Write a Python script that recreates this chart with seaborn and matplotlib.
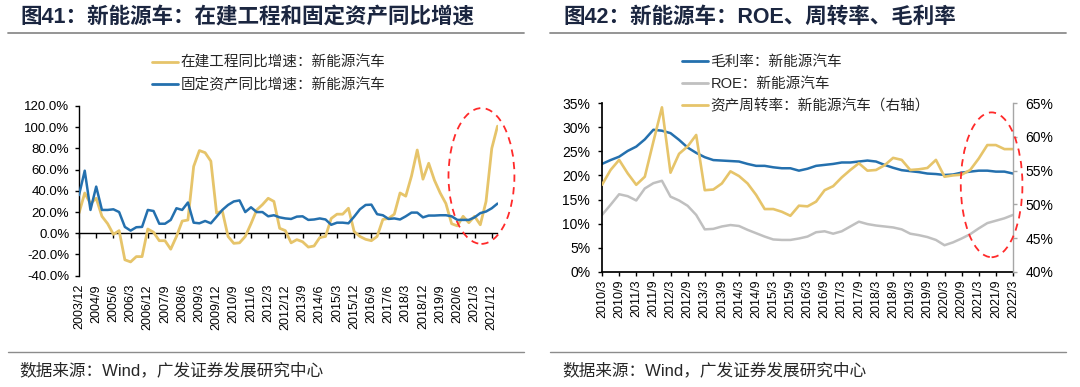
import numpy as np
import pandas as pd
import matplotlib
matplotlib.use("Agg")
import matplotlib.pyplot as plt
from matplotlib.patches import Ellipse
from matplotlib.lines import Line2D
import seaborn as sns

sns.set_theme(style="white")
plt.rcParams['font.family'] = ['Liberation Sans', 'Noto Sans CJK SC', 'DejaVu Sans']
plt.rcParams['axes.unicode_minus'] = False

# ---------------- data: left panel (quarterly, 2003/12 - 2022/3) ----------------
left_quarters = [f"{p.year}/{p.quarter * 3}" for p in pd.period_range("2003Q4", "2022Q1", freq="Q")]
cip_yoy = [19, 38, 28, 33, 16, 9, -1, 2.5, -25, -27,
           -22, -22, 4, 1, -7, -7, -15, -3, 11.5, 12.5,
           63, 78, 76, 68, 19, 21, -3, -9.5, -9, -3,
           9, 22, 27, 33, 30, 4.7, 2.5, -9, -6, -8,
           -13, -12, -4, -3, 14, 18, 18, 23.6, 1.6, -3,
           -5.7, -7, -3, 13, 14, 18, 38, 35, 54, 78.5,
           51, 66, 50, 38, 28, 9, 7, 16, 10, 16,
           8, 30, 80, 101]
fa_yoy = [36, 59, 22, 44, 22, 22, 22.6, 20, 6, 2.5,
          5.7, 6, 22, 21, 9, 9, 12.6, 23.6, 22, 29,
          10, 9.4, 11.6, 9.4, 15.7, 22, 26.7, 30, 31, 20,
          24.5, 20, 20, 16, 17, 15, 14, 13.5, 15.7, 16,
          12.6, 13, 14, 13, 8, 10, 10, 9.4, 15.7, 22.6,
          26.7, 27, 18, 17, 13.5, 14, 13, 16, 19.5, 19.5,
          15, 16.7, 16.7, 17, 17, 16, 12.6, 12.6, 12.6, 15,
          19, 20.5, 23.6, 28]
left_labels = ["在建工程同比增速：新能源汽车", "固定资产同比增速：新能源汽车"]

# ---------------- data: right panel (quarterly, 2010/3 - 2022/3) ----------------
right_quarters = [f"{p.year}/{p.quarter * 3}" for p in pd.period_range("2010Q1", "2022Q1", freq="Q")]
gross_margin = [22.4, 23.2, 23.9, 25.1, 26.0, 27.5, 29.5, 29.3, 28.8, 27.4,
                25.8, 24.7, 23.8, 23.2, 23.1, 23.0, 22.9, 22.4, 22.0, 22.0,
                21.7, 21.5, 21.5, 21.0, 21.4, 22.0, 22.2, 22.4, 22.7, 22.7,
                22.9, 23.1, 22.9, 22.2, 21.6, 21.1, 20.9, 20.7, 20.4, 20.3,
                20.1, 20.2, 20.6, 20.8, 21.0, 21.0, 20.8, 20.8, 20.4]
roe = [11.8, 13.9, 16.1, 15.7, 14.8, 17.3, 18.4, 18.9, 15.6, 14.8,
       13.7, 11.8, 8.8, 8.9, 9.4, 9.7, 9.5, 8.7, 8.0, 7.3,
       6.7, 6.6, 6.6, 6.9, 7.3, 8.2, 8.4, 7.9, 8.4, 9.4,
       10.4, 9.9, 9.6, 9.4, 9.2, 8.8, 7.9, 7.6, 7.2, 6.6,
       5.5, 6.1, 6.9, 7.8, 9.0, 10.1, 10.6, 11.1, 11.8]
asset_turnover = [52.9, 55.1, 56.6, 54.6, 52.9, 54.1, 59.3, 64.4, 54.7, 57.5,
                  58.6, 60.3, 52.1, 52.2, 53.1, 54.9, 54.2, 53.1, 51.4, 49.3,
                  49.3, 48.9, 48.3, 49.8, 49.7, 50.4, 52.1, 52.7, 54.0, 55.1,
                  56.1, 55.0, 55.1, 55.8, 56.9, 56.6, 55.1, 55.2, 55.4, 56.6,
                  54.1, 54.3, 54.4, 55.1, 56.8, 58.8, 58.8, 58.2, 58.2]
right_labels = ["毛利率：新能源汽车", "ROE：新能源汽车", "资产周转率：新能源汽车（右轴）"]

titles = ["图41：新能源车：在建工程和固定资产同比增速", "图42：新能源车：ROE、周转率、毛利率"]
source = "数据来源：Wind，广发证券发展研究中心"

YELLOW = "#E6C46A"
BLUE = "#2470AE"
GREY = "#C0C0C0"
RED = "#FF2A2A"
TITLE_C = "#1B2640"

W, H = 1080, 387
fig = plt.figure(figsize=(W / 100, H / 100), dpi=100)
fig.patch.set_facecolor("white")

def fx(px):
    return px / W

def fy(py):
    return 1 - py / H

# ---------------- left panel ----------------
ax1 = fig.add_axes([fx(79), fy(275.7), fx(497.5 - 79), (275.7 - 106) / H])
dfl = pd.DataFrame({"i": np.arange(len(left_quarters)), "cip": cip_yoy, "fa": fa_yoy})
sns.lineplot(data=dfl, x="i", y="fa", ax=ax1, color=BLUE, lw=1.8, zorder=3)
sns.lineplot(data=dfl, x="i", y="cip", ax=ax1, color=YELLOW, lw=2.0, zorder=2)
ax1.set_xlim(0, len(left_quarters) - 1)
ax1.set_ylim(-40, 120)
ax1.set_yticks(np.arange(-40, 121, 20))
ax1.set_yticklabels([f"{v:.1f}%" for v in np.arange(-40, 121, 20)])
lt = np.arange(0, len(left_quarters), 3)
ax1.set_xticks(lt)
ax1.set_xticklabels([left_quarters[i] for i in lt], rotation=90)
ax1.set_xlabel("")
ax1.set_ylabel("")
for s in ["top", "right", "bottom"]:
    ax1.spines[s].set_visible(False)
ax1.spines["left"].set_color("black")
ax1.spines["left"].set_linewidth(1.0)
ax1.tick_params(axis="y", left=True, length=3, width=1, pad=4, labelsize=9.5, colors="black")
ax1.tick_params(axis="x", bottom=True, length=0, pad=6, labelsize=9, colors="black")
sec = ax1.secondary_xaxis(40 / 160)
sec.set_xticks(lt)
sec.tick_params(axis="x", length=3.5, width=1, labelbottom=False, labeltop=False, colors="black")
for s in sec.spines.values():
    s.set_color("black")
    s.set_linewidth(1.0)

ax1.add_patch(Ellipse((70.2, 54), 11.5, 128, fill=False, ec=RED, lw=1.3,
                      ls=(0, (4, 3)), clip_on=False, zorder=5))
h1 = [Line2D([], [], color=YELLOW, lw=2), Line2D([], [], color=BLUE, lw=2)]
ax1.legend(h1, left_labels, loc="upper left", bbox_to_anchor=(fx(152), fy(56)),
           bbox_transform=fig.transFigure, frameon=False, fontsize=10.5,
           handlelength=1.75, handletextpad=0.2, labelspacing=0.55,
           borderpad=0, borderaxespad=0)

# ---------------- right panel ----------------
ax2 = fig.add_axes([fx(602), fy(271.7), fx(1013 - 602), (271.7 - 103.3) / H])
ax3 = ax2.twinx()
dfr = pd.DataFrame({"i": np.arange(len(right_quarters)), "gm": gross_margin,
                    "roe": roe, "at": asset_turnover})
sns.lineplot(data=dfr, x="i", y="gm", ax=ax2, color=BLUE, lw=1.8)
sns.lineplot(data=dfr, x="i", y="roe", ax=ax2, color=GREY, lw=1.8)
sns.lineplot(data=dfr, x="i", y="at", ax=ax3, color=YELLOW, lw=1.9)
ax2.set_xlim(0, len(right_quarters) - 1)
ax2.set_ylim(0, 35)
ax3.set_ylim(40, 65)
ax2.set_yticks(np.arange(0, 36, 5))
ax2.set_yticklabels([f"{v}%" for v in range(0, 36, 5)])
ax3.set_yticks(np.arange(40, 66, 5))
ax3.set_yticklabels([f"{v}%" for v in range(40, 66, 5)])
rt = np.arange(0, len(right_quarters), 2)
ax2.set_xticks(rt)
ax2.set_xticklabels([right_quarters[i] for i in rt], rotation=90)
for a in (ax2, ax3):
    a.set_xlabel("")
    a.set_ylabel("")
for s in ["top", "right"]:
    ax2.spines[s].set_visible(False)
for s in ["top", "left", "bottom"]:
    ax3.spines[s].set_visible(False)
ax2.spines["left"].set_color("black")
ax2.spines["bottom"].set_color("black")
ax3.spines["right"].set_color("#A6A6A6")
ax3.spines["right"].set_linewidth(1.0)
ax2.tick_params(axis="y", left=True, length=3, width=1, pad=5.5, labelsize=10, colors="black")
ax2.tick_params(axis="x", bottom=True, length=3, width=1, pad=2.5, labelsize=9, colors="black")
ax3.tick_params(axis="y", right=True, length=3, width=1, pad=6, labelsize=10,
                color="#A6A6A6", labelcolor="black")

ax3.add_patch(Ellipse((45.5, 52.9), 7.2, 21.5, fill=False, ec=RED, lw=1.3,
                      ls=(0, (4, 3)), clip_on=False, zorder=5))
h2 = [Line2D([], [], color=BLUE, lw=2), Line2D([], [], color=GREY, lw=2),
      Line2D([], [], color=YELLOW, lw=2)]
leg2 = ax3.legend(h2, right_labels, loc="upper left", bbox_to_anchor=(fx(682), fy(55)),
                  bbox_transform=fig.transFigure, frameon=False, fontsize=10.5,
                  handlelength=1.75, handletextpad=0.2, labelspacing=0.55,
                  borderpad=0, borderaxespad=0)

# ---------------- titles, separators, sources ----------------
for x0, x1, tx, t in [(8, 524, 20, titles[0]), (550, 1066, 563, titles[1])]:
    fig.text(fx(tx), fy(17), t, fontsize=15.5, fontweight="bold", color=TITLE_C,
             va="center", ha="left")
    fig.add_artist(Line2D([fx(x0), fx(x1)], [fy(33), fy(33)], color="#8C8C8C", lw=1.3))
    fig.add_artist(Line2D([fx(x0), fx(x1)], [fy(352), fy(352)], color="#8C8C8C", lw=1.0))
    fig.text(fx(tx - 1), fy(370), source, fontsize=12, color="#262626", va="center", ha="left")

fig.savefig("out.png", dpi=100, facecolor="white")
